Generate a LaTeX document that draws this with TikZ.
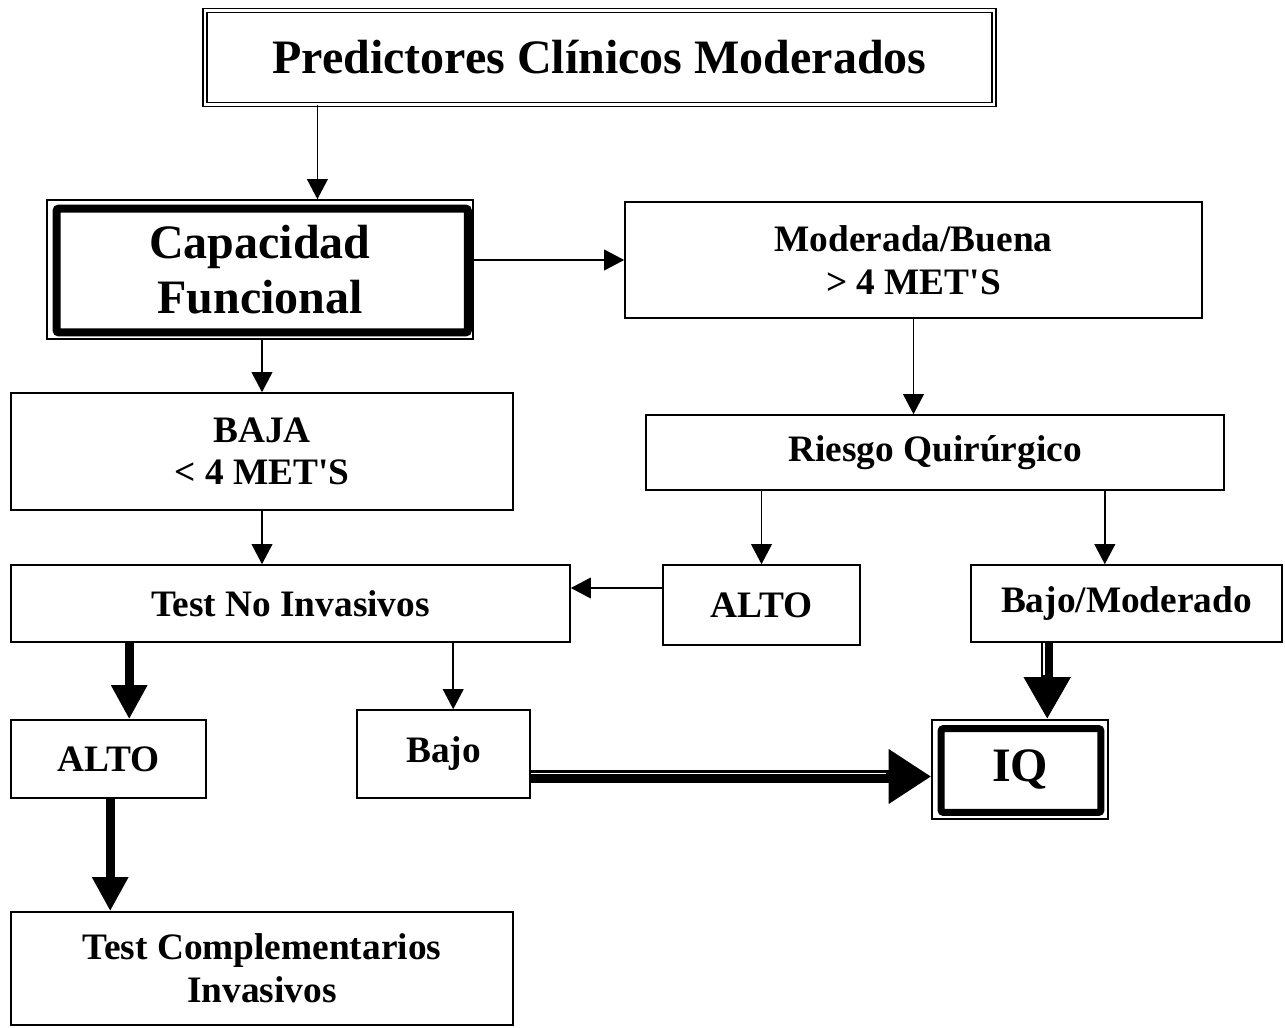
\documentclass[tikz,border=0pt]{standalone}
\usepackage{fontspec}
\setmainfont{Liberation Serif}
\usetikzlibrary{arrows.meta,calc}
\begin{document}
\begin{tikzpicture}[x=0.75pt,y=-0.75pt,
  box/.style={draw, line width=1.2pt, inner sep=0pt, align=center, font=\bfseries\fontsize{28}{32}\selectfont},
  sz/.style 2 args={minimum width=#1*0.75pt, minimum height=#2*0.75pt},
  bigfont/.style={font=\bfseries\fontsize{36}{41}\selectfont},
  thinarrow/.style={line width=1.1pt, -{Triangle[length=15pt,width=15.5pt]}},
  thickarrow/.style={line width=6.75pt, -{Triangle[length=25.5pt,width=25.5pt]}},
  gapline/.style={white, line width=1.4pt}]
\useasboundingbox (0,0) rectangle (1285,1028);

% nodes
\node (top) [box, bigfont, line width=0.9pt, double, double distance=2pt, sz={789}{94}] at (599.5,57.5) {Predictores Clínicos Moderados};
\node (cap) [box, bigfont, sz={426}{139}] at (260,269.5) {Capacidad\\Funcional};
\draw[line width=6pt, rounded corners=1.5pt] ($(cap.north west)+(10.5,9.5)$) rectangle ($(cap.south east)+(-6,-7.5)$);
\node (mb) [box, sz={577}{116}] at (913.5,260) {Moderada/Buena\\> 4 MET\textquotesingle S};
\node (baja) [box, sz={502}{117}] at (262,451.5) {BAJA\\< 4 MET\textquotesingle S};
\node (rq) [box, sz={578}{75}] at (935,452.5) {Riesgo Quirúrgico};
\node (tni) [box, sz={559}{77}] at (290.5,603.5) {Test No Invasivos};
\node (altoR) [box, sz={197}{80}] at (761.5,605) {ALTO};
\node (bm) [box, sz={311}{77}] at (1126.5,603.5) {Bajo/Moderado};
\node (altoL) [box, sz={195}{78}] at (108.5,759) {ALTO};
\node (bajo) [box, sz={173}{88}] at (443.5,754) {Bajo};
\node (iq) [box, bigfont, sz={176}{99}] at (1020,769.5) {IQ};
\draw[line width=5.25pt, rounded corners=1.5pt] ($(iq.north west)+(10,9.5)$) rectangle ($(iq.south east)+(-8,-7.5)$);
\node (tc) [box, sz={502}{113}] at (262,968.5) {Test Complementarios\\Invasivos};

% connectors
\coordinate (c1) at ($(top.south west)+(113,0)$);
\draw[thinarrow] (c1) -- (c1 |- cap.north);
\draw[thinarrow] (mb.west -| cap.east) -- (mb.west);
\draw[thinarrow] (cap.south -| baja.north) -- (baja.north);
\draw[thinarrow] (mb.south) -- (mb.south |- rq.north);
\draw[thinarrow] (altoR.north |- rq.south) -- (altoR.north);
\coordinate (c6) at ($(rq.south east)+(-120,0)$);
\draw[thinarrow] (c6) -- (c6 |- bm.north);
\coordinate (c7) at ($(altoR.west)+(0,-17)$);
\draw[thinarrow] (c7) -- (c7 -| tni.east);
\draw[thinarrow] (baja.south) -- (baja.south |- tni.north);
\coordinate (c9) at ($(tni.south west)+(119,0)$);
\draw[thickarrow] (c9) -- (c9 |- altoL.north);
\coordinate (c10) at ($(tni.south west)+(443,0)$);
\draw[thinarrow] (c10) -- (c10 |- bajo.north);
\coordinate (c11) at ($(altoL.south west)+(100,0)$);
\draw[thickarrow] (c11) -- (c11 |- tc.north);

% double arrow Bajo -> IQ
\coordinate (c12) at ($(bajo.east)+(0,22.5)$);
\draw[line width=9.75pt, -{Triangle[length=32pt,width=39pt]}] (c12) -- (c12 -| iq.west);
\draw[gapline] ($(c12)+(0,-3)$) -- ($(c12 -| iq.west)+(-45,-3)$);

% double arrow Bajo/Moderado -> IQ
\coordinate (c13) at ($(bm.south west)+(77,0)$);
\draw[line width=9.2pt, -{Triangle[length=31.5pt,width=33pt]}] (c13) -- (c13 |- iq.north);
\draw[gapline] ($(c13)+(-3,0)$) -- ($(c13 |- iq.north)+(-3,-44)$);
\end{tikzpicture}
\end{document}
